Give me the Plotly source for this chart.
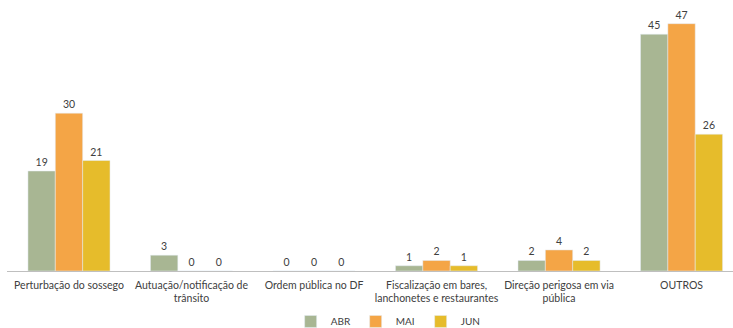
import plotly.graph_objects as go

categories = ["Perturbação do sossego", "Autuação/notificação de<br>trânsito", "Ordem pública no DF",
              "Fiscalização em bares,<br>lanchonetes e restaurantes", "Direção perigosa em via<br>pública", "OUTROS"]
abr = [19, 3, 0, 1, 2, 45]
mai = [30, 0, 0, 2, 4, 47]
jun = [21, 0, 0, 1, 2, 26]
series = [("ABR", abr, "#A8B693"), ("MAI", mai, "#F4A546"), ("JUN", jun, "#E6BC2B")]

fig = go.Figure()
for name, vals, col in series:
    fig.add_trace(go.Bar(x=list(range(len(categories))), y=vals, name=name, marker_color=col,
                         text=[str(v) for v in vals], textposition="outside",
                         textfont=dict(size=10.5, color="#404040"), cliponaxis=False))

fig.update_layout(
    width=733, height=328, barmode="group", bargap=0.33, bargroupgap=0,
    margin=dict(l=7, r=0, t=10, b=57, autoexpand=False),
    plot_bgcolor="white", paper_bgcolor="white",
    font=dict(family="Lato, Open Sans, sans-serif", size=10, color="#404040"),
    xaxis=dict(tickmode="array", tickvals=list(range(len(categories))), ticktext=categories,
               range=[-0.506, 5.42], showline=True, linecolor="#BFBFBF", linewidth=1,
               ticks="", tickfont=dict(size=10.5, color="#404040"), showgrid=False,
               automargin=False, ticklabelstandoff=4),
    yaxis=dict(range=[0, 49.6], visible=False, showgrid=False),
    legend=dict(orientation="h", x=0.525, xanchor="center", yref="container", y=0.02, yanchor="middle",
                font=dict(size=10, color="#404040"), traceorder="normal",
                itemwidth=30, entrywidthmode="pixels", entrywidth=20, tracegroupgap=0),
    showlegend=True,
)
fig.write_html("out.html")
